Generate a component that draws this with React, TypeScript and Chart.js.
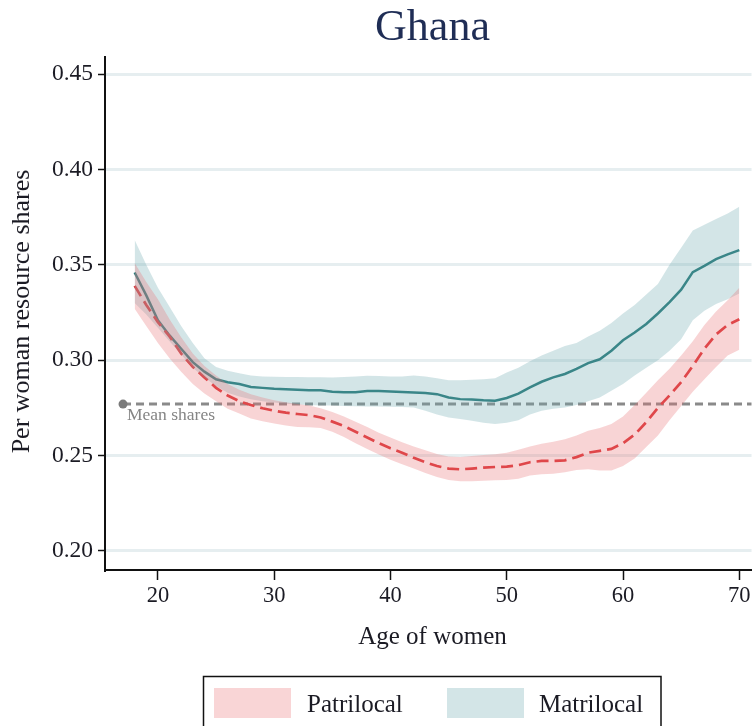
import React, { useEffect, useRef } from "react";
import { Chart, registerables } from "chart.js";

Chart.register(...registerables);

// Age of women (years)
const ages = [
  18, 19, 20, 21, 22, 23, 24, 25, 26, 27, 28, 29, 30, 31, 32, 33, 34, 35, 36, 37, 38, 39, 40, 41, 42, 43,
  44, 45, 46, 47, 48, 49, 50, 51, 52, 53, 54, 55, 56, 57, 58, 59, 60, 61, 62, 63, 64, 65, 66, 67, 68, 69, 70,
];

// Matrilocal: estimate and confidence band
const matriMean = [
  0.346, 0.334, 0.321, 0.313, 0.306, 0.299, 0.294, 0.29, 0.2885, 0.2875, 0.286, 0.2855, 0.285, 0.2848, 0.2845,
  0.2843, 0.2842, 0.2835, 0.2832, 0.2832, 0.2838, 0.2838, 0.2836, 0.2834, 0.2831, 0.2828, 0.2822, 0.2805, 0.2796,
  0.2794, 0.279, 0.2788, 0.2802, 0.2825, 0.2858, 0.2887, 0.291, 0.2928, 0.2955, 0.2985, 0.3005, 0.305, 0.3105,
  0.3145, 0.319, 0.3245, 0.3305, 0.337, 0.3462, 0.3495, 0.353, 0.3555, 0.3577,
];
const matriHigh = [
  0.363, 0.35, 0.338, 0.328, 0.318, 0.309, 0.301, 0.2965, 0.2945, 0.2932, 0.292, 0.2915, 0.2913, 0.2912, 0.2912,
  0.2911, 0.2911, 0.2909, 0.2912, 0.2915, 0.2918, 0.2917, 0.2915, 0.2915, 0.292, 0.2915, 0.2905, 0.2895, 0.2895,
  0.2898, 0.29, 0.2905, 0.2935, 0.296, 0.2995, 0.3025, 0.305, 0.3075, 0.309, 0.3125, 0.3155, 0.3195, 0.3245,
  0.329, 0.3345, 0.34, 0.35, 0.359, 0.368, 0.371, 0.374, 0.377, 0.3805,
];
const matriLow = [
  0.33, 0.324, 0.317, 0.31, 0.303, 0.296, 0.291, 0.2865, 0.283, 0.281, 0.2795, 0.2785, 0.2778, 0.2772, 0.2768,
  0.2765, 0.2763, 0.2762, 0.276, 0.2758, 0.2757, 0.2757, 0.2756, 0.2755, 0.2752, 0.2735, 0.2715, 0.27, 0.2692,
  0.2682, 0.2672, 0.2666, 0.2672, 0.2685, 0.2715, 0.2735, 0.2745, 0.2752, 0.2765, 0.2785, 0.2805, 0.284, 0.2875,
  0.292, 0.296, 0.3, 0.305, 0.311, 0.321, 0.326, 0.3295, 0.332, 0.335,
];

// Patrilocal: estimate and confidence band
const patriMean = [
  0.339, 0.329, 0.32, 0.3125, 0.3035, 0.2965, 0.291, 0.2855, 0.2815, 0.2785, 0.2765, 0.2748, 0.2735, 0.2725,
  0.2718, 0.2712, 0.27, 0.2678, 0.2655, 0.2625, 0.2595, 0.2565, 0.2538, 0.2515, 0.2488, 0.2465, 0.2445, 0.2432,
  0.2428, 0.2432, 0.2437, 0.244, 0.2442, 0.245, 0.2465, 0.2472, 0.2472, 0.2475, 0.2492, 0.2515, 0.2525, 0.2535,
  0.2565, 0.261, 0.2675, 0.275, 0.2815, 0.2885, 0.297, 0.306, 0.3135, 0.3185, 0.3215,
];
const patriHigh = [
  0.351, 0.341, 0.332, 0.3215, 0.312, 0.3035, 0.297, 0.292, 0.2875, 0.2845, 0.2822, 0.2805, 0.279, 0.278, 0.277,
  0.2762, 0.2748, 0.2728, 0.2705, 0.2678, 0.265, 0.262, 0.2595, 0.257, 0.2548, 0.2528, 0.2508, 0.2495, 0.2493,
  0.2498, 0.2503, 0.2507, 0.2515, 0.253, 0.2548, 0.2562, 0.2572, 0.2585, 0.2605, 0.263, 0.2645, 0.2665, 0.2705,
  0.2765, 0.283, 0.2895, 0.2955, 0.3025, 0.31, 0.3185, 0.3255, 0.3315, 0.338,
];
const patriLow = [
  0.327, 0.318, 0.309, 0.301, 0.294, 0.2875, 0.2825, 0.2785, 0.2745, 0.272, 0.2695, 0.268, 0.2668, 0.2658, 0.265,
  0.2648, 0.2645, 0.2625, 0.2598, 0.2565, 0.2535, 0.2505, 0.2478, 0.2455, 0.2432, 0.2408, 0.2388, 0.2372, 0.2366,
  0.2366, 0.2368, 0.237, 0.2372, 0.2378, 0.2395, 0.2402, 0.2405, 0.2412, 0.2425, 0.2428, 0.2422, 0.2422, 0.2445,
  0.2485, 0.2545, 0.2605, 0.2685, 0.276, 0.2835, 0.29, 0.2965, 0.3025, 0.3055,
];

// Reference line: mean resource shares
const meanShare = 0.277;
const meanMarkerAge = 17;

const xTicks = [20, 30, 40, 50, 60, 70];
const yTicks = [0.2, 0.25, 0.3, 0.35, 0.4, 0.45];
const xRange = [15.45, 71.05];
const yRange = [0.19, 0.459];

const legendItems = ["Patrilocal", "Matrilocal"];

const SERIF = '"Liberation Serif", "Times New Roman", serif';
const INK = "#1b1b24";
const PINK_BAND = "rgba(232,112,115,0.3)";
const TEAL_BAND = "rgba(108,168,175,0.3)";
const PINK_SWATCH = "#f9d5d6";
const TEAL_SWATCH = "#d3e5e7";
const TEAL_LINE = "#247778";
const RED_LINE = "#dc3539";
const GRID = "#e6eef0";
const MEAN_GREY = "#8a8a8a";

const pts = (vals: number[]) => ages.map((a, i) => ({ x: a, y: vals[i] }));

const textPlugin = {
  id: "ghanaText",
  afterDraw(chart: any) {
    const { ctx, chartArea, scales } = chart;
    const cx = (105 + 756) / 2;
    const cy = (chartArea.top + chartArea.bottom) / 2;
    ctx.save();

    // title
    ctx.fillStyle = "#1f2d55";
    ctx.font = `44px ${SERIF}`;
    ctx.textAlign = "center";
    ctx.textBaseline = "alphabetic";
    ctx.fillText("Ghana", cx + 2, 40);

    // axis titles
    ctx.fillStyle = INK;
    ctx.font = `25px ${SERIF}`;
    ctx.textBaseline = "middle";
    ctx.fillText("Age of women", cx + 2, 637);
    ctx.save();
    ctx.translate(22, cy - 2);
    ctx.rotate(-Math.PI / 2);
    ctx.font = `26px ${SERIF}`;
    ctx.fillText("Per woman resource shares", 0, 0);
    ctx.restore();

    // mean label
    const mx = scales.x.getPixelForValue(meanMarkerAge);
    const my = scales.y.getPixelForValue(meanShare);
    ctx.fillStyle = "#858585";
    ctx.font = `17.5px ${SERIF}`;
    ctx.textAlign = "left";
    ctx.textBaseline = "alphabetic";
    ctx.fillText("Mean shares", mx + 4, my + 16);

    // legend
    ctx.strokeStyle = "#111";
    ctx.lineWidth = 1.5;
    ctx.strokeRect(203.5, 676.5, 457.5, 70);
    ctx.fillStyle = PINK_SWATCH;
    ctx.fillRect(214, 688, 77, 30);
    ctx.fillStyle = TEAL_SWATCH;
    ctx.fillRect(447, 688, 77, 30);
    ctx.fillStyle = INK;
    ctx.font = `25px ${SERIF}`;
    ctx.textBaseline = "alphabetic";
    ctx.fillText(legendItems[0], 307, 712);
    ctx.fillText(legendItems[1], 539, 712);

    ctx.restore();
  },
};

export default function App() {
  const canvasRef = useRef<HTMLCanvasElement | null>(null);

  useEffect(() => {
    document.body.style.margin = "0";
    const canvas = canvasRef.current;
    if (!canvas) return;

    const lineBase = { pointRadius: 0, pointHoverRadius: 0, tension: 0 };

    const chart = new Chart(canvas, {
      type: "line",
      data: {
        datasets: [
          { ...lineBase, label: "patri-low", data: pts(patriLow), borderWidth: 0, fill: false },
          { ...lineBase, label: "patri-high", data: pts(patriHigh), borderWidth: 0, fill: 0, backgroundColor: PINK_BAND },
          { ...lineBase, label: "matri-low", data: pts(matriLow), borderWidth: 0, fill: false },
          { ...lineBase, label: "matri-high", data: pts(matriHigh), borderWidth: 0, fill: 2, backgroundColor: TEAL_BAND },
          {
            ...lineBase,
            label: legendItems[0],
            data: pts(patriMean),
            borderColor: RED_LINE,
            borderWidth: 2.7,
            borderDash: [12, 6],
            fill: false,
          },
          { ...lineBase, label: legendItems[1], data: pts(matriMean), borderColor: TEAL_LINE, borderWidth: 2.5, fill: false },
          {
            label: "mean",
            data: [
              { x: meanMarkerAge, y: meanShare },
              { x: xRange[1] + 1, y: meanShare },
            ],
            borderColor: MEAN_GREY,
            borderWidth: 3,
            borderDash: [8, 5],
            pointRadius: [4.5, 0],
            pointBackgroundColor: "#7a7a7a",
            pointBorderWidth: 0,
            fill: false,
          },
        ],
      },
      options: {
        responsive: false,
        animation: false,
        events: [],
        layout: { padding: { top: 57, right: 0, left: 0, bottom: 0 } },
        plugins: { legend: { display: false }, title: { display: false }, tooltip: { enabled: false } },
        scales: {
          x: {
            type: "linear",
            min: xRange[0],
            max: xRange[1],
            afterBuildTicks: (scale: any) => {
              scale.ticks = xTicks.map((v) => ({ value: v }));
            },
            afterFit: (scale: any) => {
              scale.height = 156;
              scale.paddingRight = 0;
              scale.paddingLeft = 0;
            },
            ticks: {
              font: { family: SERIF, size: 22.5 },
              color: INK,
              padding: 3,
              maxRotation: 0,
              autoSkip: false,
            },
            grid: { drawOnChartArea: false, tickLength: 10, tickColor: "#111", tickWidth: 1.5 },
            border: { display: true, color: "#111", width: 2 },
          },
          y: {
            type: "linear",
            min: yRange[0],
            max: yRange[1],
            afterBuildTicks: (scale: any) => {
              scale.ticks = yTicks.map((v) => ({ value: v }));
            },
            afterFit: (scale: any) => {
              scale.width = 105;
              scale.paddingTop = 0;
              scale.paddingBottom = 0;
            },
            ticks: {
              font: { family: SERIF, size: 23.5 },
              color: INK,
              padding: 5,
              callback: (v: any) => Number(v).toFixed(2),
            },
            grid: { color: GRID, lineWidth: 3, tickLength: 7, tickColor: "#111", tickWidth: 1.5 },
            border: { display: true, color: "#111", width: 2 },
          },
        },
      },
      plugins: [textPlugin],
    } as any);

    return () => chart.destroy();
  }, []);

  return (
    <div style={{ width: 756, height: 726, background: "#fff", overflow: "hidden" }}>
      <canvas ref={canvasRef} width={756} height={726} style={{ display: "block" }} />
    </div>
  );
}
